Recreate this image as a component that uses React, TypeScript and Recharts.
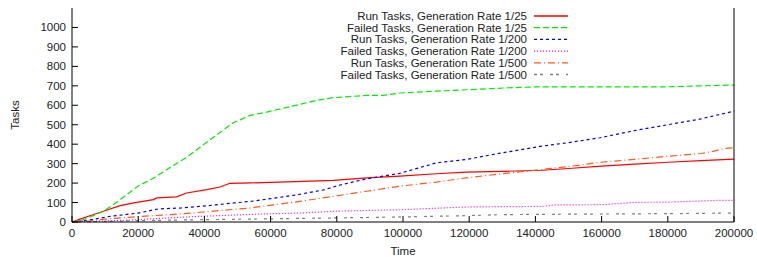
import React from 'react';
import { LineChart, Line, XAxis, YAxis, Legend } from 'recharts';

const W = 757;
const H = 257;
const FONT = '"Liberation Sans", Arial, Helvetica, sans-serif';

const xTicks = [0, 20000, 40000, 60000, 80000, 100000, 120000, 140000, 160000, 180000, 200000];
const yTicks = [0, 100, 200, 300, 400, 500, 600, 700, 800, 900, 1000];

// Run Tasks, Generation Rate 1/25
const run25Time = [0, 2400, 5400, 9500, 14500, 19500, 24600, 25600, 31600, 34600, 40700, 44700, 47700, 54000, 65000, 79000, 89000, 99000, 110000, 119000, 130000, 142000, 150000, 160000, 170000, 180000, 190000, 200000];
const run25Tasks = [0, 15, 32, 55, 84, 101, 115, 124, 129, 149, 166, 180, 199, 201, 206, 214, 227, 236, 248, 256, 260, 266, 275, 287, 297, 307, 315, 323];

// Failed Tasks, Generation Rate 1/25
const fail25Time = [0, 3000, 5400, 9500, 12500, 20000, 24600, 29600, 34600, 40700, 48700, 53800, 58800, 68900, 73900, 78900, 89000, 94000, 99000, 110000, 120000, 132000, 141000, 160000, 180000, 190000, 200000];
const fail25Tasks = [0, 10, 26, 55, 89, 185, 225, 280, 332, 410, 510, 548, 565, 605, 625, 639, 651, 651, 663, 673, 680, 690, 695, 695, 695, 700, 704];

// Run Tasks, Generation Rate 1/200
const run200Time = [0, 5000, 11500, 20000, 26000, 33000, 38700, 49000, 54000, 60000, 68000, 76000, 81000, 89000, 99000, 110000, 119000, 130000, 142000, 150000, 159500, 170000, 180000, 190000, 200000];
const run200Tasks = [0, 10, 29, 46, 67, 72, 80, 98, 106, 120, 140, 165, 190, 222, 250, 304, 321, 356, 390, 408, 433, 470, 500, 530, 570];

// Failed Tasks, Generation Rate 1/200
const fail200Time = [0, 10000, 20000, 30000, 38700, 57000, 68900, 80000, 99000, 119000, 130000, 142000, 146000, 160000, 170000, 180000, 195000, 200000];
const fail200Tasks = [0, 5, 12, 22, 29, 41, 46, 56, 63, 77, 79, 80, 88, 89, 101, 102, 111, 111];

// Run Tasks, Generation Rate 1/500
const run500Time = [0, 5000, 10000, 20000, 30000, 38700, 53800, 68900, 78900, 89000, 99000, 110000, 119000, 130000, 142000, 150000, 159500, 170000, 180000, 190000, 194000, 197000, 200000];
const run500Tasks = [0, 5, 15, 28, 38, 50, 72, 106, 132, 158, 184, 205, 227, 248, 270, 285, 307, 322, 338, 352, 364, 378, 381];

// Failed Tasks, Generation Rate 1/500
const fail500Time = [0, 10000, 20000, 40000, 54000, 80000, 100000, 120000, 130000, 150000, 180000, 200000];
const fail500Tasks = [0, 3, 7, 12, 15, 21, 26, 33, 38, 40, 43, 46];

const toData = (t: number[], v: number[]) => t.map((time, i) => ({ time, tasks: v[i] }));

const series = [
  { name: 'Run Tasks, Generation Rate 1/25', data: toData(run25Time, run25Tasks), color: '#ff0000', dash: undefined as string | undefined },
  { name: 'Failed Tasks, Generation Rate 1/25', data: toData(fail25Time, fail25Tasks), color: '#00ee00', dash: '6,3' },
  { name: 'Run Tasks, Generation Rate 1/200', data: toData(run200Time, run200Tasks), color: '#0000ff', dash: '3,3' },
  { name: 'Failed Tasks, Generation Rate 1/200', data: toData(fail200Time, fail200Tasks), color: '#ff00ff', dash: '1,2' },
  { name: 'Run Tasks, Generation Rate 1/500', data: toData(run500Time, run500Tasks), color: '#ff5a1e', dash: '7,3,1,3' },
  { name: 'Failed Tasks, Generation Rate 1/500', data: toData(fail500Time, fail500Tasks), color: '#808080', dash: '3,3,3,7' },
];

const LeftTick = (props: any) => {
  const { x, y, payload } = props;
  return (
    <g>
      <line x1={x} y1={y} x2={x + 6} y2={y} stroke="#000" strokeWidth={1} />
      <text x={x - 6} y={y} dy="0.35em" textAnchor="end" fontSize={11.5} fontFamily={FONT} fill="#222">
        {payload.value}
      </text>
    </g>
  );
};

const RightTick = (props: any) => {
  const { x, y } = props;
  return <line x1={x} y1={y} x2={x - 6} y2={y} stroke="#000" strokeWidth={1} />;
};

const BottomTick = (props: any) => {
  const { x, y, payload } = props;
  return (
    <g>
      <line x1={x} y1={y} x2={x} y2={y - 6} stroke="#000" strokeWidth={1} />
      <text x={x} y={y + 11} dy="0.35em" textAnchor="middle" fontSize={11.5} fontFamily={FONT} fill="#222">
        {payload.value}
      </text>
    </g>
  );
};

const TopTick = (props: any) => {
  const { x, y } = props;
  return <line x1={x} y1={y} x2={x} y2={y + 6} stroke="#000" strokeWidth={1} />;
};

const LegendContent = () => (
  <svg width={W} height={90} style={{ display: 'block' }}>
    {series.map((s, i) => {
      const y = 16 + i * 11.7;
      return (
        <g key={s.name}>
          <text x={527} y={y} dy="0.35em" textAnchor="end" fontSize={11.5} fontFamily={FONT} fill="#222">
            {s.name}
          </text>
          <line x1={534} y1={y} x2={568} y2={y} stroke={s.color} strokeWidth={1.3} strokeDasharray={s.dash} />
        </g>
      );
    })}
  </svg>
);

export default function App() {
  return (
    <div style={{ position: 'absolute', left: 0, top: 0, width: W, height: H, background: '#fff' }}>
      <LineChart width={W} height={H} margin={{ top: 8, right: 0, bottom: 0, left: 0 }}>
        <XAxis
          xAxisId="b"
          dataKey="time"
          type="number"
          domain={[0, 200000]}
          ticks={xTicks}
          interval={0}
          height={35}
          tickSize={0}
          tickMargin={0}
          tick={<BottomTick />}
          axisLine={{ stroke: '#000', strokeWidth: 1 }}
          allowDuplicatedCategory={false}
          label={{ value: 'Time', position: 'insideBottom', offset: 2, fontSize: 11.5, fontFamily: FONT, fill: '#222' }}
        />
        <XAxis
          xAxisId="t"
          orientation="top"
          dataKey="time"
          type="number"
          domain={[0, 200000]}
          ticks={xTicks}
          interval={0}
          height={0}
          tickSize={0}
          tickMargin={0}
          tick={<TopTick />}
          axisLine={{ stroke: '#000', strokeWidth: 1 }}
        />
        <YAxis
          yAxisId="l"
          type="number"
          domain={[0, 1100]}
          ticks={yTicks}
          interval={0}
          width={72}
          tickSize={0}
          tickMargin={0}
          tick={<LeftTick />}
          axisLine={{ stroke: '#000', strokeWidth: 1 }}
          label={{ value: 'Tasks', angle: -90, position: 'insideLeft', offset: 15, fontSize: 11.5, fontFamily: FONT, fill: '#222', style: { textAnchor: 'middle' } }}
        />
        <YAxis
          yAxisId="r"
          orientation="right"
          type="number"
          domain={[0, 1100]}
          ticks={yTicks}
          interval={0}
          width={23}
          tickSize={0}
          tickMargin={0}
          tick={<RightTick />}
          axisLine={{ stroke: '#000', strokeWidth: 1 }}
        />
        <Legend
          layout="horizontal"
          verticalAlign="middle"
          align="center"
          content={<LegendContent />}
          wrapperStyle={{ position: 'absolute', left: 0, top: 0, width: W, height: 90, pointerEvents: 'none' }}
        />
        {series.map((s) => (
          <Line
            key={s.name}
            xAxisId="b"
            yAxisId="l"
            data={s.data}
            dataKey="tasks"
            name={s.name}
            type="linear"
            stroke={s.color}
            strokeWidth={1.2}
            strokeDasharray={s.dash}
            dot={false}
            activeDot={false}
            isAnimationActive={false}
          />
        ))}
      </LineChart>
    </div>
  );
}
